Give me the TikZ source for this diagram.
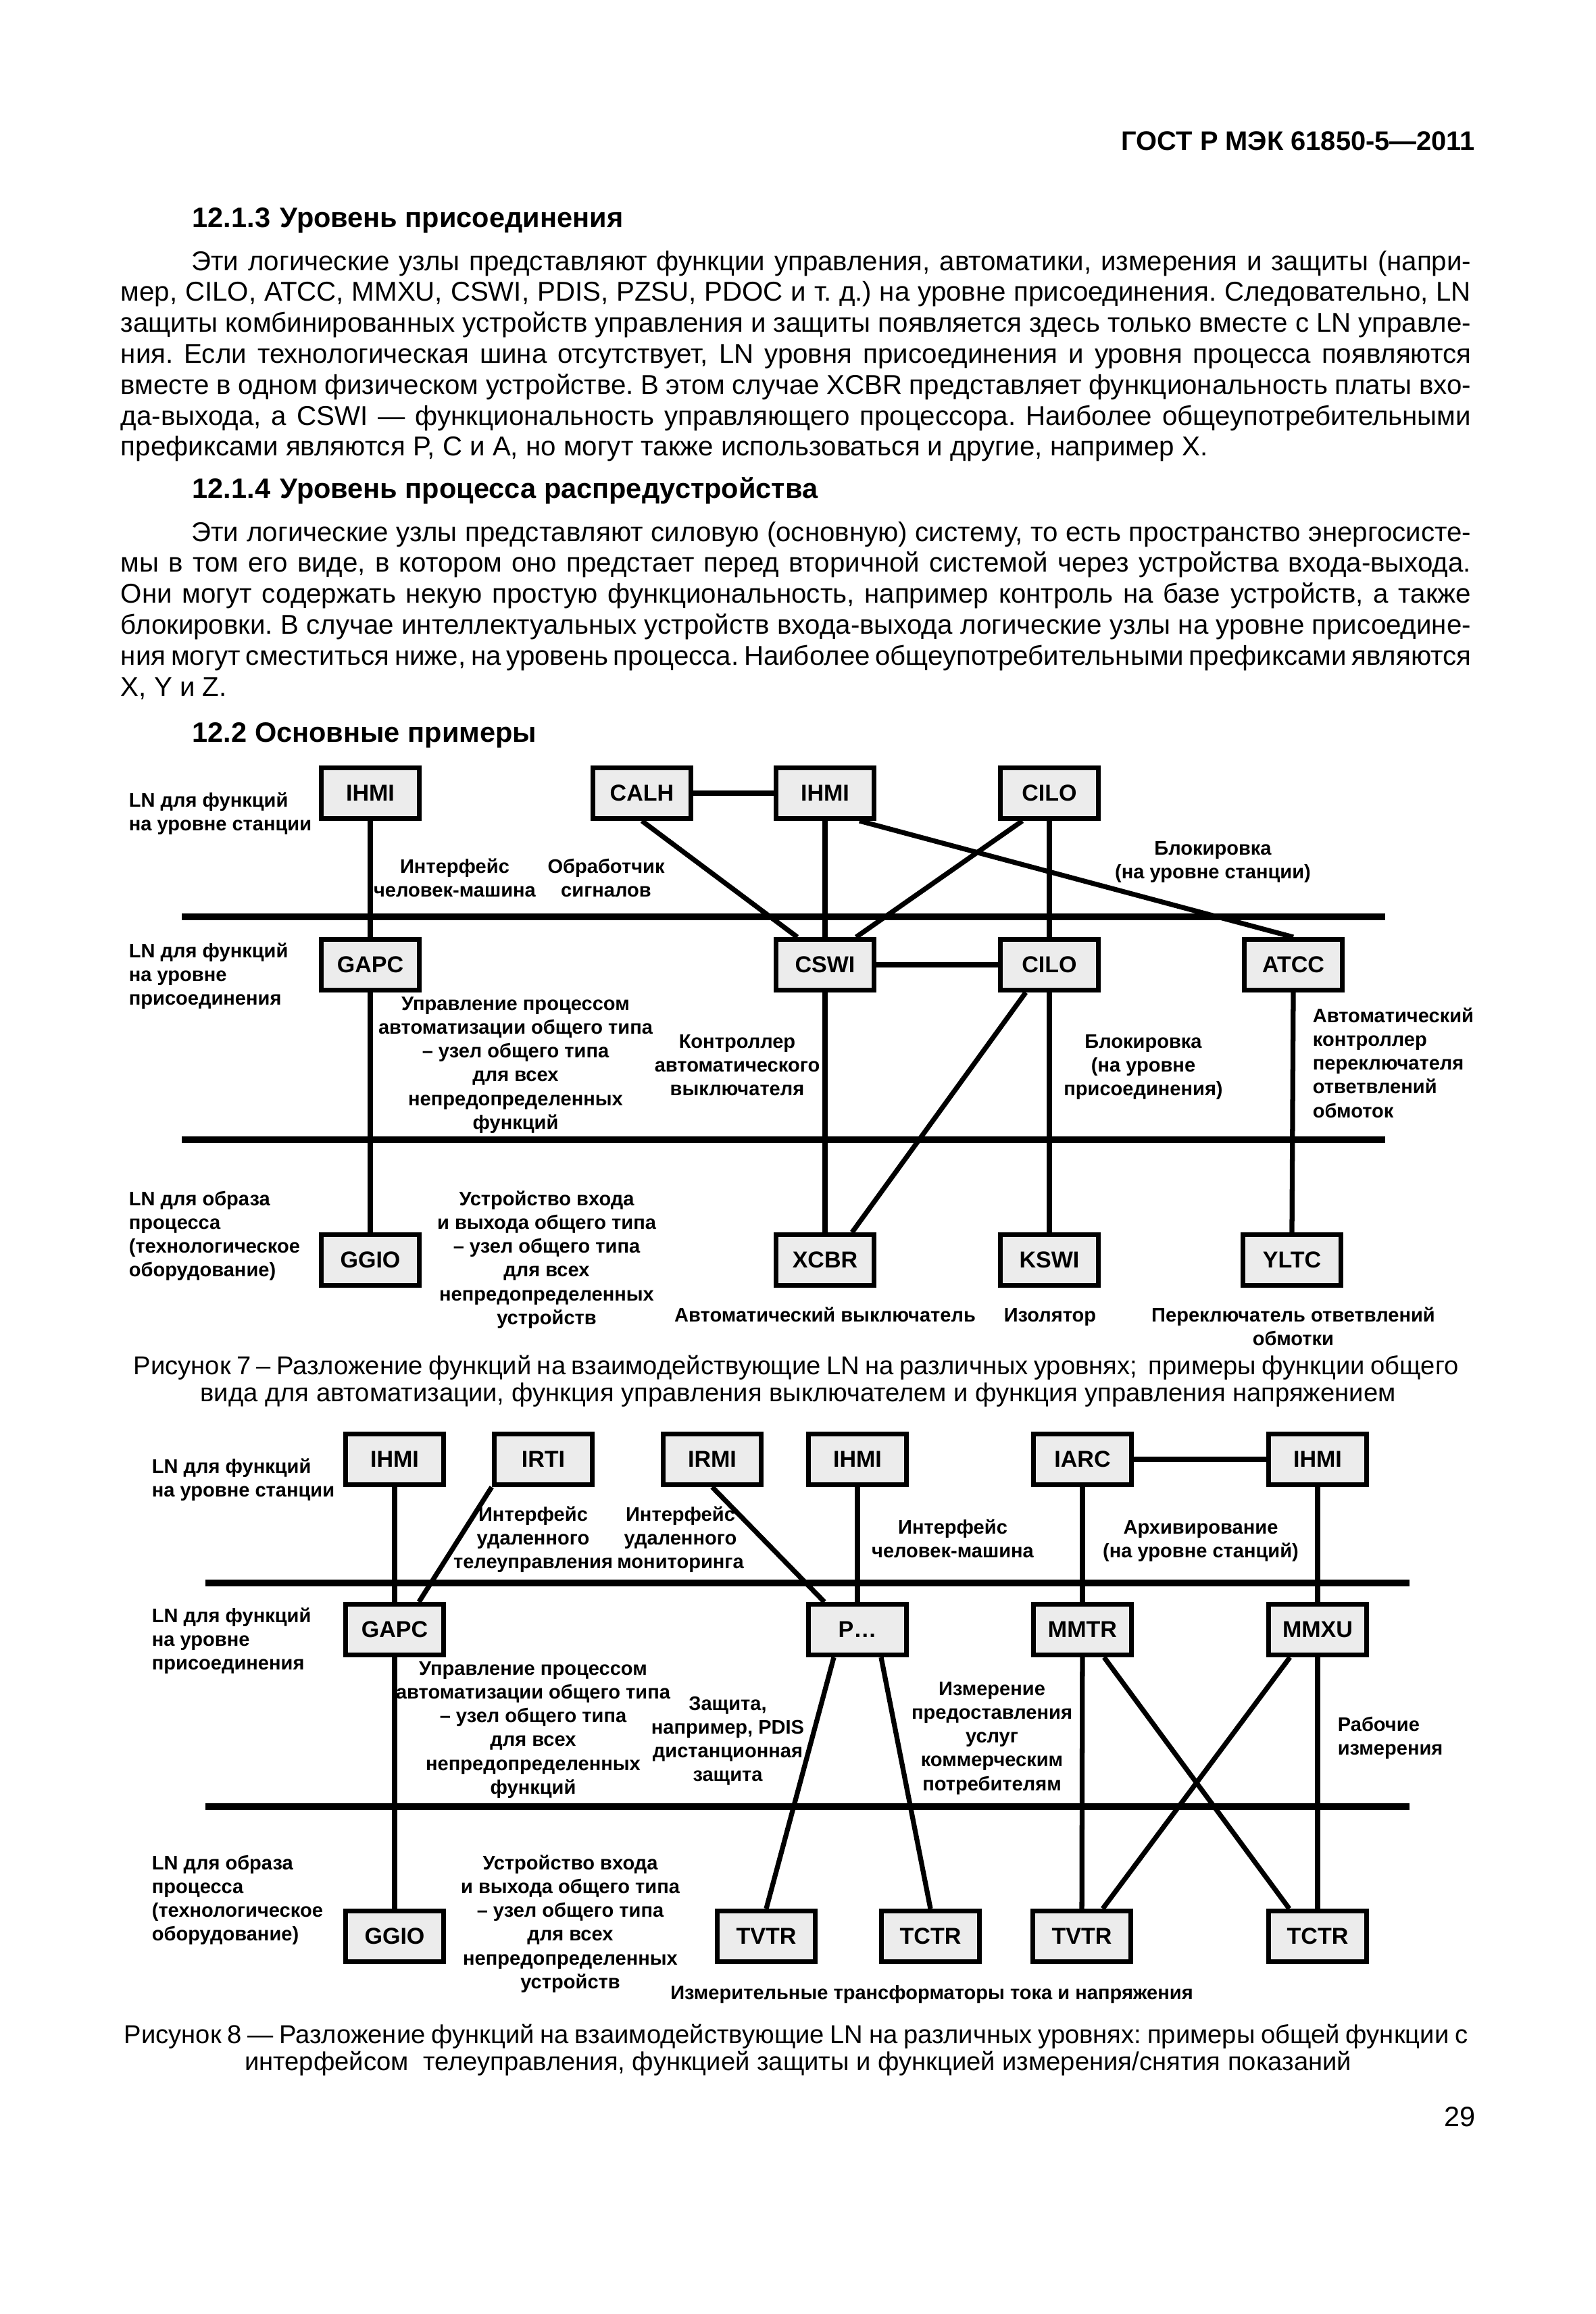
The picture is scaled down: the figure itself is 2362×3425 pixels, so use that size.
\documentclass[tikz,border=0pt]{standalone}
\usepackage{fontspec}
\setmainfont{Liberation Sans}
\usetikzlibrary{calc}
\frenchspacing

\newlength\bodyw
\setlength\bodyw{481.4pt}
% one justified line of the body text
\newcommand{\fl}[1]{\makebox[\bodyw][s]{#1}}
% label blocks, baseline on the first line
\newcommand{\ctxt}[1]{\parbox[t]{80mm}{\centering #1}}
\newcommand{\ltxt}[1]{\parbox[t]{45mm}{\raggedright #1}}

\tikzset{
  lnbox/.style={draw, line width=1.75pt, fill=gray!15, minimum width=35pt,
    minimum height=18pt, inner sep=0pt, font=\bfseries\fontsize{8.2}{9.8}\selectfont},
  bus/.style={line width=2.4pt},
  link/.style={line width=1.75pt},
  lbl/.style={inner sep=0pt, anchor=base, font=\bfseries\fontsize{7}{8.5}\selectfont},
  lblw/.style={lbl, anchor=base west},
  body/.style={inner sep=0pt, anchor=base west, font=\fontsize{9.7}{11.04}\selectfont},
  head/.style={inner sep=0pt, anchor=base west, font=\bfseries\fontsize{10}{12}\selectfont},
  capt/.style={inner sep=0pt, anchor=base, font=\fontsize{9.2}{11}\selectfont}
}

\begin{document}
\begin{tikzpicture}[x=0.084667mm, y=-0.084667mm]
\path[use as bounding box, fill=white] (0,0) rectangle (2362,3425);

% page head and text
\node[head, anchor=base east, font=\bfseries\fontsize{9.6}{11}\selectfont] (gost) at (2184,222) {ГОСТ Р МЭК 61850-5—2011};
\node[head] (sec3) at (284,336) {12.1.3\hspace{0.35em}Уровень присоединения};
\node[body] (par1) at (178,400) {\parbox[t]{\bodyw}{%
\fl{\hspace*{25.2pt}Эти логические узлы представляют функции управления, автоматики, измерения и защиты (напри-}\\
\fl{мер, CILO, ATCC, MMXU, CSWI, PDIS, PZSU, PDOC и т. д.) на уровне присоединения. Следовательно, LN}\\
\fl{защиты комбинированных устройств управления и защиты появляется здесь только вместе с LN управле-}\\
\fl{ния. Если технологическая шина отсутствует, LN уровня присоединения и уровня процесса появляются}\\
\fl{вместе в одном физическом устройстве. В этом случае XCBR представляет функциональность платы вхо-}\\
\fl{да-выхода, а CSWI — функциональность управляющего процессора. Наиболее общеупотребительными}\\
префиксами являются P, C и A, но могут также использоваться и другие, например X.}};
\node[head] (sec4) at (284,737) {12.1.4\hspace{0.35em}Уровень процесса распредустройства};
\node[body] (par2) at (178,801) {\parbox[t]{\bodyw}{%
\fl{\hspace*{25.2pt}Эти логические узлы представляют силовую (основную) систему, то есть пространство энергосисте-}\\
\fl{мы в том его виде, в котором оно предстает перед вторичной системой через устройства входа-выхода.}\\
\fl{Они могут содержать некую простую функциональность, например контроль на базе устройств, а также}\\
\fl{блокировки. В случае интеллектуальных устройств входа-выхода логические узлы на уровне присоедине-}\\
\fl{ния могут сместиться ниже, на уровень процесса. Наиболее общеупотребительными префиксами являются}\\
X, Y и Z.}};
\node[head] (sec5) at (284,1098) {12.2 Основные примеры};

% figure 7: buses
\coordinate (b7aW) at (269,1357);
\coordinate (b7aE) at (2050,1357);
\coordinate (b7bW) at (269,1687);
\coordinate (b7bE) at (2050,1687);
\draw[bus] (b7aW) -- (b7aE);
\draw[bus] (b7bW) -- (b7bE);

% figure 7: station level
\node[lnbox] (ihmi7a) at (548,1174) {IHMI};
\node[lnbox] (calh7) at (950,1174) {CALH};
\node[lnbox] (ihmi7b) at (1221,1174) {IHMI};
\node[lnbox] (cilo7a) at (1553,1174) {CILO};
% figure 7: bay level
\node[lnbox] (gapc7) at (548,1428) {GAPC};
\node[lnbox] (cswi7) at (1221,1428) {CSWI};
\node[lnbox] (cilo7b) at (1553,1428) {CILO};
\node[lnbox] (atcc7) at (1914,1428) {ATCC};
% figure 7: process level
\node[lnbox] (ggio7) at (548,1865) {GGIO};
\node[lnbox] (xcbr7) at (1221,1865) {XCBR};
\node[lnbox] (kswi7) at (1553,1865) {KSWI};
\node[lnbox] (yltc7) at (1912,1865) {YLTC};

% figure 7: links
\draw[link] (ihmi7a) -- (gapc7);
\draw[link] (calh7) -- (ihmi7b);
\draw[link] (calh7.south) -- ($(cswi7.north)+(-41,0)$);
\draw[link] (ihmi7b) -- (cswi7);
\draw[link] ($(cilo7a.south)+(-40,0)$) -- ($(cswi7.north)+(46,0)$);
\draw[link] ($(ihmi7b.south)+(51,0)$) -- (atcc7.north);
\draw[link] (cilo7a) -- (cilo7b);
\draw[link] (cswi7) -- (cilo7b);
\draw[link] (gapc7) -- (ggio7);
\draw[link] (cswi7) -- (xcbr7);
\draw[link] ($(cilo7b.south)+(-35,0)$) -- ($(xcbr7.north)+(40,0)$);
\draw[link] (cilo7b) -- (kswi7);
\draw[link] (atcc7.south) -- (yltc7.north);

% figure 7: labels
\node[lblw] (lv7a) at (190,1194) {\ltxt{LN для функций\\на уровне станции}};
\node[lbl] (hmi7) at (673,1292) {\ctxt{Интерфейс\\человек-машина}};
\node[lbl] (alm7) at (897,1292) {\ctxt{Обработчик\\сигналов}};
\node[lbl] (ilks7) at (1795,1265) {\ctxt{Блокировка\\(на уровне станции)}};
\node[lblw] (lv7b) at (190,1417) {\ltxt{LN для функций\\на уровне\\присоединения}};
\node[lbl] (gen7) at (763,1495) {\ctxt{Управление процессом\\автоматизации общего типа\\– узел общего типа\\для всех\\непредопределенных\\функций}};
\node[lbl] (cb7) at (1091,1551) {\ctxt{Контроллер\\автоматического\\выключателя}};
\node[lbl] (ilkb7) at (1692,1551) {\ctxt{Блокировка\\(на уровне\\присоединения)}};
\node[lblw] (tap7) at (1942,1513) {\ltxt{Автоматический\\контроллер\\переключателя\\ответвлений\\обмоток}};
\node[lblw] (lv7c) at (190,1784) {\ltxt{LN для образа\\процесса\\(технологическое\\оборудование)}};
\node[lbl] (gio7) at (809,1784) {\ctxt{Устройство входа\\и выхода общего типа\\– узел общего типа\\для всех\\непредопределенных\\устройств}};
\node[lbl] (cbt7) at (1221,1956) {Автоматический выключатель};
\node[lbl] (iso7) at (1554,1956) {Изолятор};
\node[lbl] (tc7) at (1914,1956) {\ctxt{Переключатель ответвлений\\обмотки}};

% figure 7: caption
\node[capt, anchor=base west] (cap7a) at (197,2034) {\makebox[472.3pt][s]{Рисунок 7 – Разложение функций на взаимодействующие LN на различных уровнях;\ \ примеры функции общего}};
\node[capt] (cap7b) at (1181,2074) {вида для автоматизации, функция управления выключателем и функция управления напряжением};

% figure 8: buses
\coordinate (b8aW) at (304,2343);
\coordinate (b8aE) at (2086,2343);
\coordinate (b8bW) at (304,2674);
\coordinate (b8bE) at (2086,2674);
\draw[bus] (b8aW) -- (b8aE);
\draw[bus] (b8bW) -- (b8bE);

% figure 8: station level
\node[lnbox] (ihmi8a) at (584,2160) {IHMI};
\node[lnbox] (irti8) at (804,2160) {IRTI};
\node[lnbox] (irmi8) at (1054,2160) {IRMI};
\node[lnbox] (ihmi8b) at (1269,2160) {IHMI};
\node[lnbox] (iarc8) at (1602,2160) {IARC};
\node[lnbox] (ihmi8c) at (1950,2160) {IHMI};
% figure 8: bay level
\node[lnbox] (gapc8) at (584,2412) {GAPC};
\node[lnbox] (prot8) at (1269,2412) {P…};
\node[lnbox] (mmtr8) at (1602,2412) {MMTR};
\node[lnbox] (mmxu8) at (1950,2412) {MMXU};
% figure 8: process level
\node[lnbox] (ggio8) at (584,2866) {GGIO};
\node[lnbox] (tvtr8a) at (1134,2866) {TVTR};
\node[lnbox] (tctr8a) at (1377,2866) {TCTR};
\node[lnbox] (tvtr8b) at (1601,2866) {TVTR};
\node[lnbox] (tctr8b) at (1950,2866) {TCTR};

% figure 8: links
\draw[link] (ihmi8a) -- (gapc8);
\draw[link] (irti8.south west) -- ($(gapc8.north)+(36,0)$);
\draw[link] (irmi8.south) -- ($(prot8.north)+(-49,0)$);
\draw[link] (ihmi8b) -- (prot8);
\draw[link] (iarc8) -- (ihmi8c);
\draw[link] (iarc8) -- (mmtr8);
\draw[link] (ihmi8c) -- (mmxu8);
\draw[link] ($(prot8.south)+(-35,0)$) -- (tvtr8a.north);
\draw[link] ($(prot8.south)+(35,0)$) -- (tctr8a.north);
\draw[link] (mmtr8) -- (tvtr8b);
\draw[link] ($(mmtr8.south)+(32,0)$) -- ($(tctr8b.north)+(-42,0)$);
\draw[link] ($(mmxu8.south)+(-41,0)$) -- ($(tvtr8b.north)+(31,0)$);
\draw[link] (mmxu8) -- (tctr8b);
\draw[link] (gapc8) -- (ggio8);

% figure 8: labels
\node[lblw] (lv8a) at (224,2180) {\ltxt{LN для функций\\на уровне станции}};
\node[lbl] (rti8) at (789,2251) {\ctxt{Интерфейс\\удаленного\\телеуправления}};
\node[lbl] (rmi8) at (1007,2251) {\ctxt{Интерфейс\\удаленного\\мониторинга}};
\node[lbl] (hmi8) at (1410,2270) {\ctxt{Интерфейс\\человек-машина}};
\node[lbl] (arc8) at (1777,2270) {\ctxt{Архивирование\\(на уровне станций)}};
\node[lblw] (lv8b) at (224,2401) {\ltxt{LN для функций\\на уровне\\присоединения}};
\node[lbl] (gen8) at (789,2479) {\ctxt{Управление процессом\\автоматизации общего типа\\– узел общего типа\\для всех\\непредопределенных\\функций}};
\node[lbl] (dis8) at (1077,2531) {\ctxt{Защита,\\например, PDIS\\дистанционная\\защита}};
\node[lbl] (met8) at (1468,2509) {\ctxt{Измерение\\предоставления\\услуг\\коммерческим\\потребителям}};
\node[lblw] (ops8) at (1979,2562) {\ltxt{Рабочие\\измерения}};
\node[lblw] (lv8c) at (224,2767) {\ltxt{LN для образа\\процесса\\(технологическое\\оборудование)}};
\node[lbl] (gio8) at (844,2767) {\ctxt{Устройство входа\\и выхода общего типа\\– узел общего типа\\для всех\\непредопределенных\\устройств}};
\node[lbl] (itr8) at (1379,2959) {Измерительные трансформаторы тока и напряжения};

% figure 8: caption
\node[capt, anchor=base west] (cap8a) at (183,3024) {\makebox[479pt][s]{Рисунок 8 — Разложение функций на взаимодействующие LN на различных уровнях: примеры общей функции с}};
\node[capt] (cap8b) at (1181,3064) {интерфейсом\ \ телеуправления, функцией защиты и функцией измерения/снятия показаний};

\node[inner sep=0pt, anchor=base east, font=\fontsize{10}{12}\selectfont] (pgno) at (2184,3147) {29};
\end{tikzpicture}
\end{document}
